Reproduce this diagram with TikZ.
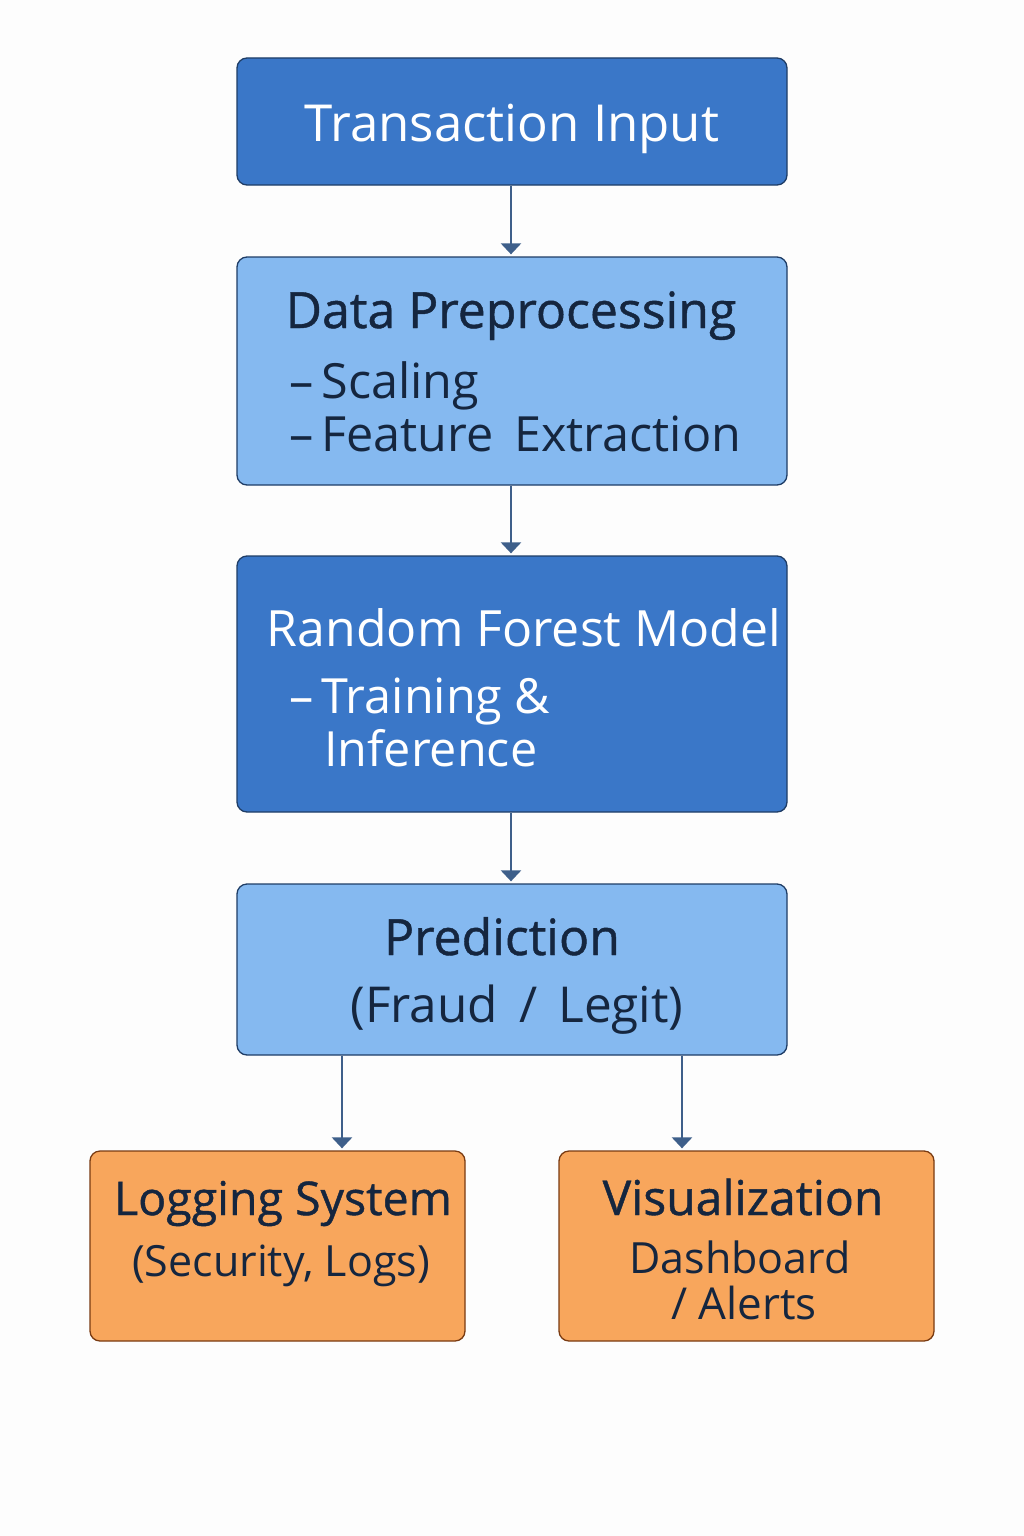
\documentclass[tikz,border=0pt]{standalone}
\usepackage{fontspec}
\setmainfont{Open Sans}
\newfontfamily\medfont[FakeBold=0.9]{Open Sans}
\usetikzlibrary{arrows.meta}
\definecolor{bgc}{HTML}{FDFDFD}
\definecolor{darkfill}{HTML}{3A77C8}
\definecolor{lightfill}{HTML}{85B9F0}
\definecolor{orangefill}{HTML}{F8A65C}
\definecolor{blueedge}{HTML}{1F3D66}
\definecolor{orangeedge}{HTML}{7A3B12}
\definecolor{arrowc}{HTML}{3E5F8A}
\definecolor{txtdark}{HTML}{15263F}
\tikzset{
  box/.style={draw, line width=1.3pt, rounded corners=10pt, inner sep=0pt},
  darkbox/.style={box, fill=darkfill, draw=blueedge},
  lightbox/.style={box, fill=lightfill, draw=blueedge},
  orangebox/.style={box, fill=orangefill, draw=orangeedge},
  lbl/.style={inner sep=0pt, anchor=base},
  lbll/.style={inner sep=0pt, anchor=base west},
  wtxt/.style={text=white},
  dtxt/.style={text=txtdark},
  flow/.style={draw=arrowc, line width=2.5pt, -{Triangle[width=20pt,length=11pt]}},
}
\begin{document}
\begin{tikzpicture}[x=1pt,y=-1pt]
\fill[bgc] (0,0) rectangle (1024,1536);
\useasboundingbox (0,0) rectangle (1024,1536);

% boxes
\node[darkbox, minimum width=550pt, minimum height=127pt] (ti) at (512,121.5) {};
\node[lightbox, minimum width=550pt, minimum height=228pt] (dp) at (512,371) {};
\node[darkbox, minimum width=550pt, minimum height=256pt] (rf) at (512,684) {};
\node[lightbox, minimum width=550pt, minimum height=171pt] (pr) at (512,969.5) {};
\node[orangebox, minimum width=375pt, minimum height=190pt] (lg) at (277.5,1246) {};
\node[orangebox, minimum width=375pt, minimum height=190pt] (vz) at (746.5,1246) {};

% texts
\node[lbl, wtxt, font=\fontsize{51}{60}\selectfont] (t1) at (512,142) {Transaction Input};

\node[lbl, dtxt, font=\medfont\fontsize{50}{58}\selectfont] (t2) at (511,328) {Data Preprocessing};
\node[lbll, dtxt, font=\fontsize{48.5}{56}\selectfont] (t3) at (289,398) {–\,Scaling};
\node[lbll, dtxt, font=\fontsize{48.5}{56}\selectfont] (t4) at (289,451) {–\,Feature\, Extraction};

\node[lbl, wtxt, font=\fontsize{50}{58}\selectfont] (t5) at (524,646) {Random Forest Model};
\node[lbll, wtxt, font=\fontsize{48.5}{56}\selectfont] (t6) at (289,713) {–\,Training \&};
\node[lbll, wtxt, font=\fontsize{48.5}{56}\selectfont] (t7) at (324,766) {Inference};

\node[lbl, dtxt, font=\medfont\fontsize{50}{58}\selectfont] (t8) at (502,955) {Prediction};
\node[lbl, dtxt, font=\fontsize{49.5}{56}\selectfont] (t9) at (517,1022) {(Fraud \,/\, Legit)};

\node[lbl, dtxt, font=\medfont\fontsize{46.5}{54}\selectfont] (t10) at (283,1215) {Logging System};
\node[lbl, dtxt, font=\fontsize{43}{50}\selectfont] (t11) at (281,1276) {(Security, Logs)};

\node[lbl, dtxt, font=\medfont\fontsize{48}{56}\selectfont] (t12) at (743,1215) {Visualization};
\node[lbl, dtxt, font=\fontsize{43}{50}\selectfont] (t13) at (740,1273) {Dashboard};
\node[lbl, dtxt, font=\fontsize{44}{50}\selectfont] (t14) at (744,1319) {/ Alerts};

% connectors
\draw[flow] ([xshift=-1pt]ti.south) -- ([xshift=-1pt,yshift=2pt]dp.north);
\draw[flow] ([xshift=-1pt]dp.south) -- ([xshift=-1pt,yshift=2pt]rf.north);
\draw[flow] ([xshift=-1pt]rf.south) -- ([xshift=-1pt,yshift=2pt]pr.north);
\draw[flow] ([xshift=-170pt]pr.south) -- ([xshift=64.5pt,yshift=2pt]lg.north);
\draw[flow] ([xshift=170pt]pr.south) -- ([xshift=-64.5pt,yshift=2pt]vz.north);
\end{tikzpicture}
\end{document}
